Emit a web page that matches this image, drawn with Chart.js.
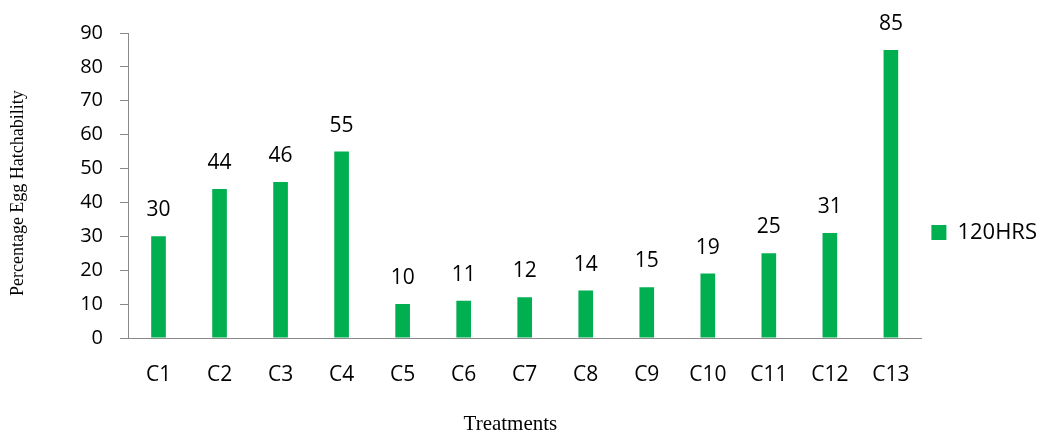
<!DOCTYPE html>
<html>
<head>
<meta charset="utf-8">
<script src="https://cdn.jsdelivr.net/npm/chart.js@4"></script>
<style>
  html, body { margin: 0; padding: 0; background: #fff; }
  #wrap { width: 1040px; height: 432px; }
</style>
</head>
<body>
<div id="wrap"><canvas id="eggChart"></canvas></div>
<script>
// data
const treatments = ['C1', 'C2', 'C3', 'C4', 'C5', 'C6', 'C7', 'C8', 'C9', 'C10', 'C11', 'C12', 'C13'];
const hatch120 = [30, 44, 46, 55, 10, 11, 12, 14, 15, 19, 25, 31, 85];
const seriesName = '120HRS';
const yTitle = 'Percentage Egg Hatchability';
const xTitle = 'Treatments';

const green = '#00B050';
const axisGrey = '#898989';

// value labels above each bar, plus the two axis titles
const barLabels = {
    id: 'barLabels',
    afterDatasetsDraw(chart) {
        const ctx = chart.ctx;
        const area = chart.chartArea;
        const meta = chart.getDatasetMeta(0);
        ctx.save();
        ctx.font = '21px "Open Sans"';
        ctx.fillStyle = '#000';
        ctx.textAlign = 'center';
        ctx.textBaseline = 'alphabetic';
        meta.data.forEach(function (bar, i) {
            ctx.fillText(String(hatch120[i]), bar.x, bar.y - 20);
        });

        // axis titles sit a little off-centre in the original
        ctx.textBaseline = 'middle';
        ctx.font = '21px "Liberation Serif"';
        ctx.fillText(xTitle, area.left + area.width * 0.482, 424);

        ctx.font = '18px "Liberation Serif"';
        ctx.translate(18, area.top + area.height * 0.525);
        ctx.rotate(-Math.PI / 2);
        ctx.fillText(yTitle, 0, 0);
        ctx.restore();
    }
};

new Chart(document.getElementById('eggChart'), {
    type: 'bar',
    data: {
        labels: treatments,
        datasets: [{
            label: seriesName,
            data: hatch120,
            backgroundColor: green,
            borderWidth: 0,
            categoryPercentage: 1,
            barPercentage: 0.24
        }]
    },
    options: {
        responsive: true,
        maintainAspectRatio: false,
        animation: false,
        layout: { padding: { top: 33, right: -7, bottom: 0, left: 0 } },
        plugins: {
            legend: {
                position: 'right',
                labels: {
                    boxWidth: 15,
                    boxHeight: 15,
                    padding: 10,
                    color: '#000',
                    font: { family: 'Open Sans', size: 22 }
                }
            },
            tooltip: { enabled: false }
        },
        scales: {
            x: {
                grid: { drawOnChartArea: false, drawTicks: false },
                border: { display: true, color: axisGrey, width: 1 },
                ticks: {
                    color: '#000',
                    padding: 24,
                    font: { family: 'Open Sans', size: 21 }
                },
                afterFit: function (scale) { scale.height = 94; }
            },
            y: {
                min: 0,
                max: 90,
                grid: { drawOnChartArea: false, drawTicks: true, tickLength: 8, color: axisGrey },
                border: { display: true, color: axisGrey, width: 1 },
                ticks: {
                    stepSize: 10,
                    color: '#000',
                    padding: 17,
                    font: { family: 'Open Sans', size: 20 }
                },
                afterFit: function (scale) { scale.width = 128; }
            }
        }
    },
    plugins: [barLabels]
});
</script>
</body>
</html>
